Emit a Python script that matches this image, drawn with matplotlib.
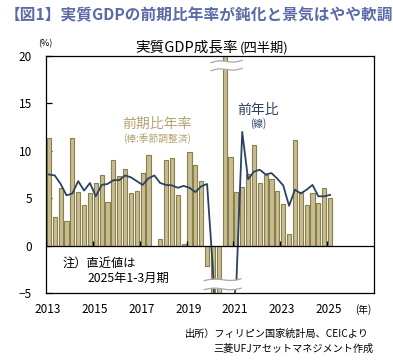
import numpy as np
import matplotlib.pyplot as plt

plt.rcParams['font.family'] = ['Noto Sans CJK JP', 'DejaVu Sans']

# quarterly data, 2013Q1 .. 2025Q1
start_year = 2013
qoq_saar = [11.3, 3.0, 6.1, 2.6, 11.4, 5.7, 4.3, 5.5,
            6.6, 7.5, 4.6, 9.0, 7.3, 8.1, 5.5, 5.8,
            7.7, 9.6, 0.0, 0.7, 9.0, 9.2, 5.3, 0.2,
            9.9, 8.5, 6.8, -2.1, -20.0, -45.0, 38.0, 9.3,
            5.65, 6.2, 7.6, 10.6, 6.6, 7.4, 7.05, 5.8,
            4.4, 1.2, 11.1, 5.7, 4.3, 5.5, 4.5, 6.1,
            5.05]
yoy = [7.5, 7.4, 6.5, 5.3, 5.5, 6.8, 5.8, 6.6,
       5.2, 6.4, 6.5, 6.9, 6.9, 7.4, 7.2, 6.8,
       6.4, 7.1, 7.4, 6.6, 6.4, 6.35, 6.1, 6.3,
       6.1, 5.65, 6.25, 6.5, -2.5, -17.0, -11.6, -8.3,
       -3.9, 12.0, 7.0, 7.8, 8.0, 7.5, 7.65, 7.05,
       6.35, 4.2, 5.9, 5.5, 5.9, 6.4, 5.2, 5.2,
       5.35]
year_ticks = [2013, 2015, 2017, 2019, 2021, 2023, 2025]

W, H = 393, 361


def fpx(x, y):
    return x / W, 1 - y / H


fig = plt.figure(figsize=(W / 100, H / 100), dpi=100)
ax = fig.add_axes([46 / W, 1 - 293 / H, (374 - 46) / W, (293 - 56) / H])

x = np.arange(len(qoq_saar))
ax.bar(x, qoq_saar, width=0.72, color='#c6bd96', edgecolor='#8c7f45',
       linewidth=0.8, zorder=2)
ax.plot(x, yoy, color='#2c4263', lw=1.3, zorder=3)

ax.set_xlim(-0.5, 55.5)
ax.set_ylim(-5, 20)
ax.axhline(0, color='black', lw=0.9, zorder=4)

# axis breaks (white bands) on the 2020 outliers
def draw_break(x0, x1, top0, top1, bot0, bot1):
    xs = np.linspace(x0, x1, 60)
    t = (xs - x0) / (x1 - x0)
    wave = 0.12 * np.sin(2 * np.pi * t)
    top = top0 + (top1 - top0) * t + wave
    bot = bot0 + (bot1 - bot0) * t + wave
    ax.fill_between(xs, bot, top, color='white', zorder=5, lw=0)
    ax.plot(xs, top, color='#a8a8a8', lw=0.9, zorder=6)
    ax.plot(xs, bot, color='#a8a8a8', lw=0.9, zorder=6)


draw_break(27.7, 33.0, 19.3, 19.55, 18.45, 18.7)
draw_break(26.5, 32.8, -3.7, -3.5, -4.65, -4.5)

tick_pos = [(y - start_year) * 4 - 0.5 for y in year_ticks]
ax.set_xticks([p + 0.3 for p in tick_pos])
ax.set_xticklabels([str(y) for y in year_ticks], fontsize=8.5)
ax.tick_params(axis='x', length=0, pad=7)
ax.vlines(tick_pos, 0, 0.45, color='black', lw=0.9, zorder=4)

ax.set_yticks([-5, 0, 5, 10, 15, 20])
ax.tick_params(axis='y', direction='in', length=4, width=0.9, pad=10,
               labelsize=8.5)
for s in ax.spines.values():
    s.set_linewidth(0.9)

# texts
fig.text(*fpx(199, 15), '【図1】実質GDPの前期比年率が鈍化と景気はやや軟調',
         ha='center', va='center', fontsize=11.3, fontweight='bold',
         color='#5a6aa8')
fig.text(*fpx(238, 48), '実質GDP成長率', ha='right', va='center', fontsize=10.5)
fig.text(*fpx(240, 48), '(四半期)', ha='left', va='center', fontsize=9.5)
fig.text(*fpx(45, 44), '(%)', ha='center', va='center', fontsize=6.5)

tan = '#b5a473'
fig.text(*fpx(157, 124), '前期比年率', ha='center', va='center',
         fontsize=10, color=tan)
fig.text(*fpx(157, 139), '(棒:季節調整済)', ha='center', va='center',
         fontsize=7, color=tan)
fig.text(*fpx(258, 110), '前年比', ha='center', va='center',
         fontsize=10, color='#2c4263')
fig.text(*fpx(258, 124), '(線)', ha='center', va='center',
         fontsize=7, color='#2c4263')

fig.text(*fpx(63, 263), '注）直近値は', ha='left', va='center', fontsize=8.8)
fig.text(*fpx(88, 278), '2025年1-3月期', ha='left', va='center', fontsize=8.8)
fig.text(*fpx(363, 310), '(年)', ha='center', va='center', fontsize=7)

fig.text(*fpx(369, 334), '出所）フィリピン国家統計局、CEICより',
         ha='right', va='center', fontsize=7.3)
fig.text(*fpx(373, 349), '三菱UFJアセットマネジメント作成',
         ha='right', va='center', fontsize=7.3)

fig.savefig('out.png', dpi=100)
